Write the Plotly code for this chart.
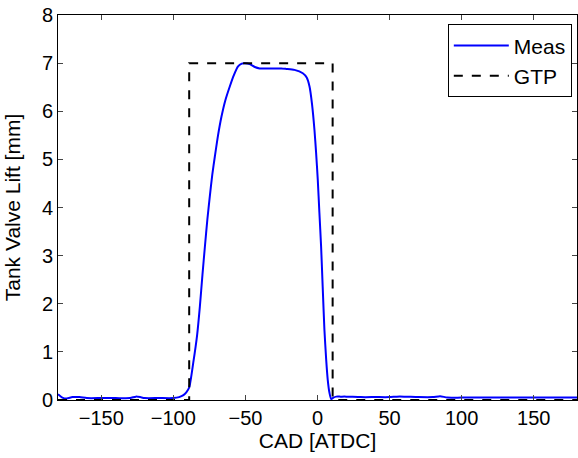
import plotly.graph_objects as go

meas_cad = [-180, -177, -174, -170, -165, -160, -150, -140, -130, -126, -123, -120, -110, -100, -96, -93, -91, -89,
            -86.2, -83.5, -81.6, -79.8, -78.1, -76.4, -74.7, -73, -71.2, -69, -66.6, -64, -60.9, -58, -55.1, -52.5,
            -50.5, -47, -43.5, -40.1, -35, -30, -25, -21.7, -16, -10.2, -7.5, -5.5, -3.8, -2.1, -1, 0.2, 1.3, 2.5,
            3.6, 4.8, 6, 7.1, 8.3, 9.5, 11, 13, 16, 20, 30, 40, 50, 55, 60, 70, 80, 85, 90, 100, 120, 140, 160, 180]
meas_lift = [0.12, 0.05, 0.03, 0.06, 0.06, 0.04, 0.04, 0.04, 0.04, 0.07, 0.06, 0.04, 0.04, 0.04, 0.06, 0.1, 0.16, 0.26,
             0.77, 1.35, 1.94, 2.6, 3.19, 3.75, 4.23, 4.68, 5.06, 5.5, 5.89, 6.22, 6.51, 6.75, 6.93, 6.99,
             7.0, 6.98, 6.92, 6.89, 6.89, 6.89, 6.89, 6.88, 6.86, 6.79, 6.7, 6.51, 6.15, 5.61, 5.15, 4.57, 3.9, 3.19,
             2.35, 1.46, 0.85, 0.42, 0.15, 0.02, 0.05, 0.07, 0.07, 0.07, 0.06, 0.06, 0.06, 0.07, 0.07, 0.06, 0.06, 0.08, 0.05, 0.05, 0.05, 0.05, 0.05, 0.05]

gtp_cad = [-180, -89, -89, 10.5, 10.5, 180]
gtp_lift = [0, 0, 7, 7, 0, 0]

x_ticks = [-150, -100, -50, 0, 50, 100, 150]
y_ticks = [0, 1, 2, 3, 4, 5, 6, 7, 8]

fig = go.Figure()
fig.add_trace(go.Scatter(x=meas_cad, y=meas_lift, mode="lines", name="Meas",
                         line=dict(color="rgb(0,0,255)", width=2, shape="spline", smoothing=0.6)))
fig.add_trace(go.Scatter(x=gtp_cad, y=gtp_lift, mode="lines", name="GTP",
                         line=dict(color="black", width=2, dash="dash")))

font = dict(family="Liberation Sans, Arial, sans-serif", size=20, color="black")
fig.update_layout(
    width=578, height=458,
    margin=dict(l=58, r=1, t=15, b=58, autoexpand=False),
    paper_bgcolor="white", plot_bgcolor="white",
    font=font,
    showlegend=True,
    legend=dict(x=0.99, y=0.976, xanchor="right", yanchor="top",
                bordercolor="black", borderwidth=1, bgcolor="white",
                font=dict(size=21), tracegroupgap=0, itemwidth=55),
)
fig.update_xaxes(range=[-180, 180], tickvals=x_ticks, ticks="inside", ticklen=5,
                 showline=True, linecolor="black", linewidth=1, mirror="ticks",
                 showgrid=False, zeroline=False, automargin=False,
                 ticklabeloverflow="allow",
                 title=dict(text="CAD [ATDC]", font=dict(size=21), standoff=2),
                 tickfont=dict(size=20))
fig.update_yaxes(range=[0, 8], tickvals=y_ticks, ticks="inside", ticklen=5,
                 showline=True, linecolor="black", linewidth=1, mirror="ticks",
                 showgrid=False, zeroline=False, automargin=False,
                 ticklabeloverflow="allow",
                 title=dict(text="Tank Valve Lift [mm]", font=dict(size=21)),
                 tickfont=dict(size=20))

fig.write_html("out.html", config={"displayModeBar": False},
               post_script="document.body.style.margin='0px';")
